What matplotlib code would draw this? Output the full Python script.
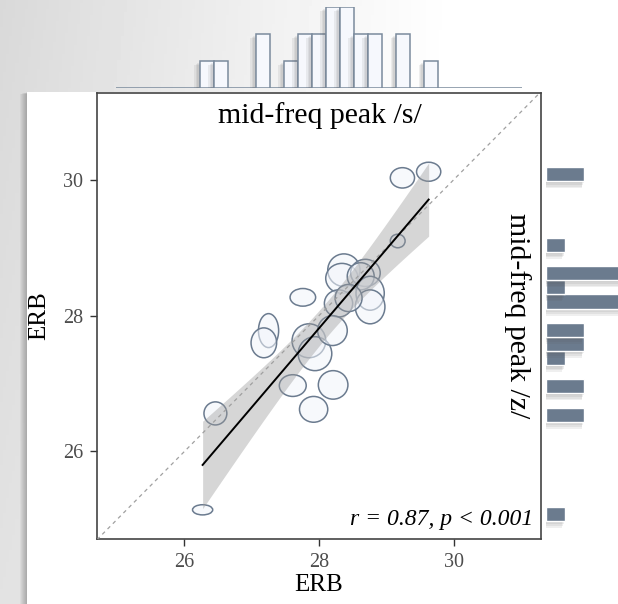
import numpy as np
import matplotlib
matplotlib.use('Agg')
import matplotlib.pyplot as plt
from matplotlib.patches import Ellipse, Rectangle
import matplotlib.patheffects as pe

# ---- data: mid-freq peak (ERB) for /s/ (x) and /z/ (y), with spread ----
x_s = [29.24, 29.63, 29.17, 28.37, 28.34, 28.69, 28.62, 28.76, 28.76, 28.29, 28.44,
       27.76, 27.25, 27.18, 27.85, 27.94, 28.20, 27.61, 28.21, 27.92, 26.46, 26.27]
y_z = [30.03, 30.12, 29.10, 28.67, 28.55, 28.63, 28.58, 28.33, 28.13, 28.18, 28.26,
       28.27, 27.78, 27.60, 27.63, 27.44, 27.78, 26.97, 26.98, 26.62, 26.56, 25.14]
sd_x = [0.18, 0.18, 0.11, 0.24, 0.24, 0.22, 0.20, 0.21, 0.22, 0.21, 0.20,
        0.19, 0.15, 0.19, 0.25, 0.25, 0.22, 0.20, 0.22, 0.21, 0.17, 0.15]
sd_y = [0.15, 0.14, 0.10, 0.24, 0.22, 0.20, 0.20, 0.25, 0.25, 0.20, 0.20,
        0.13, 0.25, 0.22, 0.25, 0.25, 0.22, 0.16, 0.21, 0.19, 0.17, 0.075]
xticks = [26, 28, 30]
yticks = [26, 28, 30]
stat_label = "r = 0.87, p < 0.001"
title_x = "mid-freq peak /s/"
title_y = "mid-freq peak /z/"
axis_label = "ERB"

x = np.array(x_s); y = np.array(y_z)
FONT = 'Liberation Serif'
plt.rcParams['font.family'] = [FONT, 'DejaVu Serif']

W, H = 618, 604
fig = plt.figure(figsize=(W / 100, H / 100), dpi=100)

def fx(px):
    return px / W
def fy(py):
    return 1 - py / H

def soft_shadow(dx, dy, steps=4, alpha=0.09):
    effs = []
    for k in range(1, steps + 1):
        effs.append(pe.SimplePatchShadow(offset=(dx * k / steps, dy * k / steps),
                                         shadow_rgbFace='#555555', alpha=alpha))
    effs.append(pe.Normal())
    return effs

# background gradient
bg = fig.add_axes([0, 0, 1, 1], zorder=-10)
u = np.linspace(0, 1, 200)[None, :]
v = np.linspace(0, 1, 200)[:, None]
shade = 0.15 * np.clip(1 - u * 1.35, 0, 1) ** 1.1 * (0.75 + 0.25 * (1 - v))
bg.imshow(1 - shade, cmap='gray', vmin=0, vmax=1, aspect='auto', extent=[0, 1, 0, 1])
bg.set_xlim(0, 1); bg.set_ylim(0, 1); bg.axis('off')

# soft shadow left of white panel
for i in range(7):
    bg.add_patch(Rectangle((fx(27 - 7 + i), 0), fx(7 - i), fy(94 - i * 0.3), transform=fig.transFigure,
                           facecolor='#444444', alpha=0.055, edgecolor='none'))
# white panel
panel = Rectangle((fx(27), 0), fx(542) - fx(27), fy(92), transform=fig.transFigure,
                  facecolor='white', edgecolor='none')
bg.add_patch(panel)

# main axes
L, R, T, B = 97, 541, 93, 539
ax = fig.add_axes([fx(L), fy(B), fx(R) - fx(L), fy(T) - fy(B)])
xlim = (24.70, 31.30); ylim = (24.71, 31.28)
ax.set_xlim(*xlim); ax.set_ylim(*ylim)
ax.set_facecolor('white')

for xi, yi, sx, sy in zip(x, y, sd_x, sd_y):
    e = Ellipse((xi, yi), 2 * sx, 2 * sy, facecolor=(0.95, 0.96, 0.985, 0.55),
                edgecolor='#6b7b8f', lw=1.1, zorder=2)
    ax.add_patch(e)

# regression with 95% CI
n = len(x)
b1, b0 = np.polyfit(x, y, 1)
xs = np.linspace(x.min(), x.max(), 100)
ys = b0 + b1 * xs
resid = y - (b0 + b1 * x)
s = np.sqrt(np.sum(resid ** 2) / (n - 2))
se = s * np.sqrt(1 / n + (xs - x.mean()) ** 2 / np.sum((x - x.mean()) ** 2))
tval = 2.086
ax.fill_between(xs, ys - tval * se, ys + tval * se, color='#999999', alpha=0.4, lw=0, zorder=3)
ax.plot([xlim[0], xlim[1]], [xlim[0], xlim[1]], ls=(0, (3, 3)), color='#a0a0a0', lw=0.9, zorder=4)
ax.plot(xs, ys, color='black', lw=1.4, zorder=5)

ax.set_xticks(xticks); ax.set_yticks(yticks)
ax.tick_params(direction='out', length=5, width=1, color='#333333', labelcolor='#4d4d4d',
               labelsize=14.5, pad=5)
for sp in ax.spines.values():
    sp.set_color('#444444'); sp.set_linewidth(1.2)
ax.set_xlabel(axis_label, fontsize=18, color='black')
ax.set_ylabel(axis_label, fontsize=18, color='black')
ax.xaxis.set_label_coords(0.5, -0.078)
ax.yaxis.set_label_coords(-0.105, 0.5)

ax.text(0.503, 0.95, title_x, transform=ax.transAxes, ha='center', va='center', fontsize=21.5, zorder=6)
ax.text(0.948, 0.5, title_y, transform=ax.transAxes, ha='center', va='center', rotation=270,
        fontsize=21.5, zorder=6)
ax.text(0.982, 0.043, stat_label, transform=ax.transAxes, ha='right', va='center', fontsize=17,
        style='italic', zorder=6)

# marginal histograms
edges = np.linspace(24.98, 31.02, 30)
w = edges[1] - edges[0]
cx, _ = np.histogram(x, bins=edges)
cy, _ = np.histogram(y, bins=edges)

axt = fig.add_axes([fx(L), fy(88.3), fx(R) - fx(L), fy(6.7) - fy(88.3)])
axt.set_xlim(*xlim); axt.set_ylim(0, 3)
bars = axt.bar(edges[:-1], cx, width=w, align='edge', facecolor='#f6f8fd',
               edgecolor='#7b8b9d', lw=1.1)
for b, c in zip(bars, cx):
    if c > 0:
        b.set_path_effects(soft_shadow(-4, -3))
axt.axis('off')

axr = fig.add_axes([fx(545.7), fy(B), 4 * 19.3 / W, fy(T) - fy(B)])
axr.set_ylim(*ylim); axr.set_xlim(0, 4)
mask = cy > 0
hb = axr.barh(edges[:-1][mask], cy[mask], height=w, align='edge', color='#6b7b8e',
              edgecolor='white', lw=1.0)
for b in hb:
    b.set_path_effects(soft_shadow(-2, -5))
axr.axis('off')

fig.savefig('out.png', dpi=100)
